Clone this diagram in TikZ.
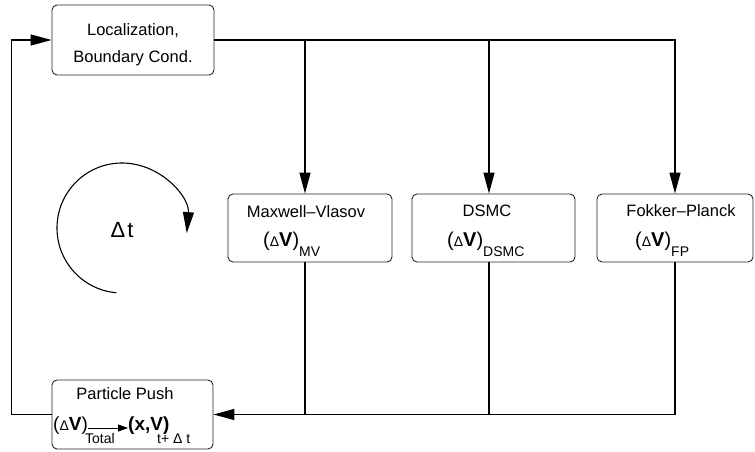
\documentclass[tikz,border=0pt]{standalone}
\usepackage{fontspec}
\setmainfont{Liberation Sans}
\usetikzlibrary{arrows.meta, positioning}

\newcommand{\boxfont}{\fontsize{16.5}{27}\selectfont}
\newcommand{\dvbig}{\fontsize{20}{20}\selectfont}
\newcommand{\pushbig}{\fontsize{19}{19}\selectfont}
\newcommand{\dvsmall}{\fontsize{14}{14}\selectfont}
\newcommand{\subsz}{\fontsize{14}{14}\selectfont}
\newcommand{\dvel}[1]{{\dvbig(}{\dvsmall Δ}{\dvbig\bfseries V}{\dvbig)}\raisebox{-10.5pt}{\subsz #1}}

\begin{document}
\begin{tikzpicture}[
        x=1pt, y=1pt,
        procbox/.style={draw=black!85, line width=0.9pt, rounded corners=5pt, inner sep=0pt},
        flow/.style={line width=1.4pt, -{Triangle[length=21pt, width=11pt]}},
        link/.style={line width=1.4pt},
        txt/.style={inner sep=0pt, anchor=base, font=\boxfont}
    ]
    \useasboundingbox (0,0) rectangle (755,451);

    % boxes
    \node[procbox, minimum width=162, minimum height=70, align=center, font=\boxfont] (bc) at (133,411) {\rule{0pt}{22pt}Localization,\\Boundary Cond.};
    \node[procbox, minimum width=164, minimum height=68] (mv) at (310,223) {};
    \node[procbox, minimum width=163, minimum height=68] (dsmc) at (493.5,223) {};
    \node[procbox, minimum width=156, minimum height=68] (fp) at (675,223) {};
    \node[procbox, minimum width=161, minimum height=69] (push) at (132.5,36.5) {};

    % texts of the solvers
    \node[txt] (mvname) at (306,234) {Maxwell--Vlasov};
    \node[txt, anchor=base west] (mvdv) at (263,205) {\dvel{MV}};
    \node[txt] (dsmcname) at (487,235) {DSMC};
    \node[txt, anchor=base west] (dsmcdv) at (447,205) {\dvel{DSMC}};
    \node[txt] (fpname) at (681,235) {Fokker--Planck};
    \node[txt, anchor=base west] (fpdv) at (635,205) {\dvel{FP}};

    % particle push
    \node[txt] (pushname) at (125,52) {Particle Push};
    \node[txt, anchor=base west, font=\pushbig] (dvtot) at (53,21) {({\dvsmall Δ}\textbf{V})};
    \node[txt, anchor=base west, font=\subsz] (totlab) at (85,8) {Total};
    \node[txt, anchor=base west, font=\pushbig\bfseries] (xvnew) at (128,21) {(x,V)};
    \node[txt, anchor=base west, font=\subsz] (tnext) at (157,8) {t+ Δ t};
    \draw[line width=0.8pt, -{Triangle[length=10pt, width=7pt]}] ([yshift=2pt]dvtot.base east) -- ([yshift=2pt]xvnew.base west);

    % connectors
    \coordinate (mvtap) at (305,411);
    \coordinate (dsmctap) at (489,411);
    \draw[flow] (bc.east) -| (fp.north);
    \draw[flow] (mvtap) -- (mvtap |- mv.north);
    \draw[flow] (dsmctap) -- (dsmctap |- dsmc.north);
    \draw[link] (mvtap |- mv.south) -- (mvtap |- push.east);
    \draw[link] (dsmctap |- dsmc.south) -- (dsmctap |- push.east);
    \draw[flow] (fp.south) |- (push.east);
    \draw[flow] (push.west) -- ++(-40,0) |- (bc.west);

    % time step cycle
    \coordinate (cyc) at (122,223);
    \node[inner sep=0pt, font=\fontsize{22}{22}\selectfont] (dtlabel) at (122,221) {Δ\hspace{2pt}t};
    \draw[line width=1.1pt, -{Triangle[length=21pt, width=11pt]}] ([shift={(265:65)}]cyc) arc[start angle=265, end angle=-4.5, radius=65];
\end{tikzpicture}
\end{document}
